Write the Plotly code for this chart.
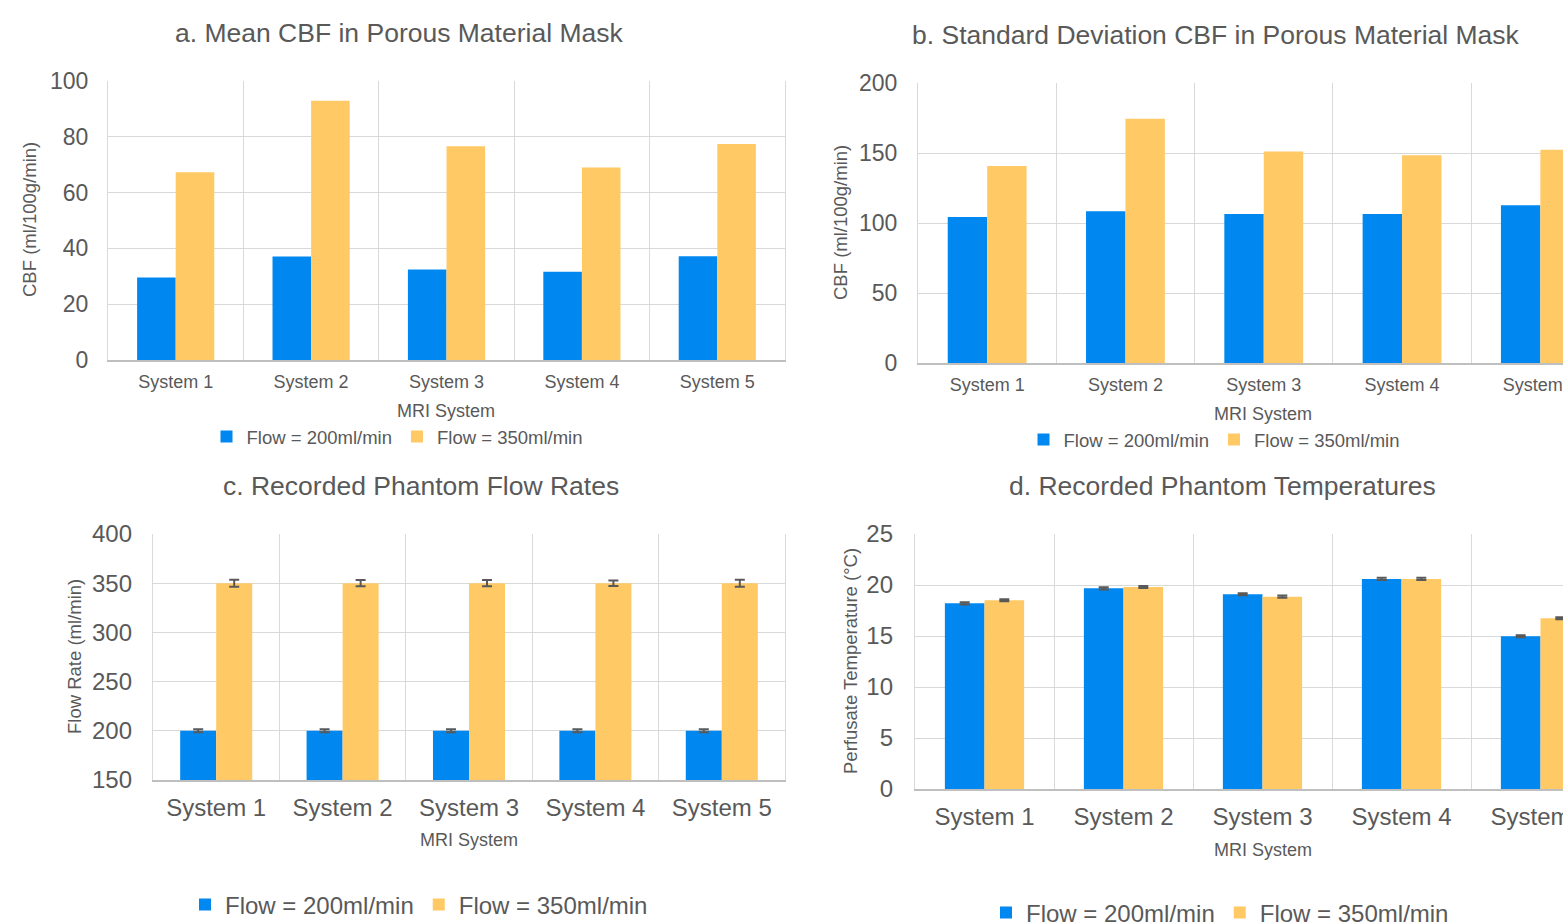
import plotly.graph_objects as go

# ---- data -------------------------------------------------------------
systems = ["System 1", "System 2", "System 3", "System 4", "System 5"]
flow_labels = ["Flow = 200ml/min", "Flow = 350ml/min"]

mean_cbf_200 = [29.6, 37.1, 32.4, 31.6, 37.2]
mean_cbf_350 = [67.3, 92.9, 76.6, 69.0, 77.4]

sd_cbf_200 = [104.3, 108.4, 106.4, 106.4, 112.6]
sd_cbf_350 = [140.8, 174.5, 151.1, 148.4, 152.3]

flow_200 = [200, 200, 200, 200, 200]
flow_350 = [350, 350, 350, 350, 350]
flow_err_200 = [1.5, 1.5, 1.5, 1.5, 1.5]
flow_err_350 = [3.5, 3.2, 3.2, 2.8, 3.5]

temp_200 = [18.2, 19.67, 19.1, 20.6, 14.97]
temp_350 = [18.5, 19.8, 18.86, 20.6, 16.73]
temp_err_200 = [0.1, 0.1, 0.1, 0.1, 0.1]
temp_err_350 = [0.1, 0.1, 0.1, 0.1, 0.1]

# ---- styling ----------------------------------------------------------
W, H = 1563, 922
BLUE = "#0088F0"
YELLOW = "#FFCA66"
TEXT = "#595959"
GRID = "#D9D9D9"
AXIS = "#BFBFBF"
FONT = "Liberation Sans, Arial, sans-serif"


def fx(px):
    return px / W


def fy(py):
    return 1 - py / H


fig = go.Figure()

panels = [
    # (xaxis, yaxis, legend, blue, yellow, blue_err, yellow_err)
    ("x", "y", "legend", mean_cbf_200, mean_cbf_350, None, None),
    ("x2", "y2", "legend2", sd_cbf_200, sd_cbf_350, None, None),
    ("x3", "y3", "legend3", flow_200, flow_350, flow_err_200, flow_err_350),
    ("x4", "y4", "legend4", temp_200, temp_350, temp_err_200, temp_err_350),
]

for xa, ya, lg, v200, v350, e200, e350 in panels:
    for vals, err, color, name in ((v200, e200, BLUE, flow_labels[0]),
                                   (v350, e350, YELLOW, flow_labels[1])):
        kw = {}
        if err is not None:
            kw["error_y"] = dict(type="data", array=err, color=TEXT,
                                 thickness=2, width=5)
        fig.add_trace(go.Bar(x=systems, y=vals, name=name, marker_color=color,
                             marker_line_width=0, xaxis=xa, yaxis=ya,
                             legend=lg, **kw))


def xaxis(left, right, rng, size):
    return dict(domain=[fx(left), fx(right)], type="category", range=rng,
                tickson="boundaries", showgrid=True, gridcolor=GRID, gridwidth=1.3,
                showline=True, linecolor=AXIS, linewidth=1.5, ticks="",
                automargin=False,
                tickfont=dict(size=size, color=TEXT, family=FONT),
                ticklabelstandoff=5, fixedrange=True)


def yaxis(top, bottom, rng, dtick, anchor, size, box, standoff):
    return dict(domain=[fy(bottom), fy(top)], range=rng, dtick=dtick,
                showgrid=True, gridcolor=GRID, gridwidth=1.3, zeroline=False,
                showline=True, linecolor=GRID, linewidth=1.3, mirror=box,
                ticks="", anchor=anchor, automargin=False,
                tickfont=dict(size=size, color=TEXT, family=FONT),
                ticklabelstandoff=standoff, fixedrange=True)


# panels b and d run past the right edge of the page
b_span = (W - 918) / 138.3
d_span = (W - 915) / 139.0

fig.update_layout(
    template="none",
    width=W, height=H, autosize=False,
    margin=dict(l=0, r=0, t=0, b=0, autoexpand=False),
    paper_bgcolor="white", plot_bgcolor="white",
    font=dict(family=FONT, color=TEXT),
    barmode="group", bargap=0.43, bargroupgap=0,
    xaxis=dict(**xaxis(108, 785, [-0.5, 4.5], 18), anchor="y"),
    yaxis=yaxis(81, 360, [0, 100], 20, "x", 23, True, 14),
    xaxis2=dict(**xaxis(918, W, [-0.5, -0.5 + b_span], 18), anchor="y2"),
    yaxis2=yaxis(83, 363, [0, 200], 50, "x2", 23, False, 15),
    xaxis3=dict(**xaxis(153, 785, [-0.5, 4.5], 24), anchor="y3"),
    yaxis3=yaxis(534, 780, [150, 400], 50, "x3", 24, True, 15),
    xaxis4=dict(**xaxis(915, W, [-0.5, -0.5 + d_span], 24), anchor="y4"),
    yaxis4=yaxis(534, 789, [0, 25], 5, "x4", 24, False, 16),
)

legend_style = dict(orientation="h", xanchor="center", yanchor="middle",
                    bgcolor="rgba(0,0,0,0)", borderwidth=0,
                    itemclick=False, itemdoubleclick=False)
fig.update_layout(
    legend=dict(x=fx(397), y=fy(437), font=dict(size=18.5, color=TEXT, family=FONT), **legend_style),
    legend2=dict(x=fx(1214), y=fy(440), font=dict(size=18.5, color=TEXT, family=FONT), **legend_style),
    legend3=dict(x=fx(419), y=fy(905), font=dict(size=24, color=TEXT, family=FONT), **legend_style),
    legend4=dict(x=fx(1220), y=fy(913), font=dict(size=24, color=TEXT, family=FONT), **legend_style),
)

# panel titles
titles = [
    ("a. Mean CBF in Porous Material Mask", 399, 33),
    ("b. Standard Deviation CBF in Porous Material Mask", 1216, 35),
    ("c. Recorded Phantom Flow Rates", 421, 486),
    ("d. Recorded Phantom Temperatures", 1222, 486),
]
for text, x, y in titles:
    fig.add_annotation(text=text, x=fx(x), y=fy(y), xref="paper", yref="paper",
                       xanchor="center", yanchor="middle", showarrow=False,
                       font=dict(size=26.5, color=TEXT, family=FONT))

# axis titles
x_titles = [(446, 411), (1263, 414), (469, 840), (1263, 850)]
for x, y in x_titles:
    fig.add_annotation(text="MRI System", x=fx(x), y=fy(y), xref="paper", yref="paper",
                       xanchor="center", yanchor="middle", showarrow=False,
                       font=dict(size=18, color=TEXT, family=FONT))

y_titles = [
    ("CBF (ml/100g/min)", 30, 220),
    ("CBF (ml/100g/min)", 840, 223),
    ("Flow Rate (ml/min)", 74, 657),
    ("Perfusate Temperature (°C)", 850, 661),
]
for text, x, y in y_titles:
    fig.add_annotation(text=text, x=fx(x), y=fy(y), xref="paper", yref="paper",
                       xanchor="center", yanchor="middle", showarrow=False,
                       textangle=-90, font=dict(size=18.5, color=TEXT, family=FONT))

fig.write_html("out.html", config={"displayModeBar": False})
